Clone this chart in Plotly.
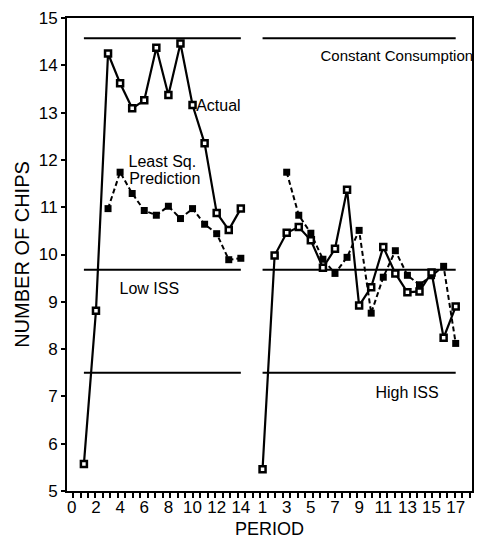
import plotly.graph_objects as go

# Session 1: periods 0-14, Session 2: periods 1-17 (drawn to the right on one axis)
periods_a = list(range(1, 15))
actual_a = [5.57, 8.81, 14.25, 13.62, 13.09, 13.26, 14.37, 13.37, 14.46, 13.16, 12.35, 10.88, 10.52, 10.97]
pred_periods_a = list(range(3, 15))
pred_a = [10.97, 11.74, 11.29, 10.93, 10.83, 11.02, 10.76, 10.97, 10.64, 10.44, 9.89, 9.92]

periods_b = list(range(1, 18))
actual_b = [5.46, 9.98, 10.46, 10.58, 10.30, 9.72, 10.12, 11.37, 8.92, 9.31, 10.16, 9.60, 9.20, 9.22, 9.62, 8.24, 8.90]
pred_periods_b = list(range(3, 18))
pred_b = [11.74, 10.83, 10.45, 9.90, 9.60, 9.94, 10.51, 8.76, 9.52, 10.08, 9.56, 9.36, 9.55, 9.75, 8.12]

# Reference levels
constant_consumption = 14.57
low_iss = 9.68
high_iss = 7.50

# Tick labels
ticks_a = [0, 2, 4, 6, 8, 10, 12, 14]
ticks_b = [1, 3, 5, 7, 9, 11, 13, 15, 17]

OFFSET_B = 14.8  # horizontal shift of the second session on the shared axis
FONT = "Liberation Sans, Arial, sans-serif"

xb = [p + OFFSET_B for p in periods_b]
xpb = [p + OFFSET_B for p in pred_periods_b]

fig = go.Figure()

# reference lines
for lvl in (constant_consumption, low_iss, high_iss):
    fig.add_trace(go.Scatter(x=[periods_a[0], periods_a[-1]], y=[lvl, lvl], mode="lines",
                             line=dict(color="black", width=2), hoverinfo="skip"))
    fig.add_trace(go.Scatter(x=[xb[0], xb[-1]], y=[lvl, lvl], mode="lines",
                             line=dict(color="black", width=2), hoverinfo="skip"))

pred_style = dict(mode="lines+markers", line=dict(color="black", width=2, dash="5px,3px"),
                  marker=dict(symbol="square", size=7, color="black"))
act_style = dict(mode="lines+markers", line=dict(color="black", width=2.2),
                 marker=dict(symbol="square", size=6, color="white",
                             line=dict(color="black", width=2.5)))

fig.add_trace(go.Scatter(x=pred_periods_a, y=pred_a, **pred_style))
fig.add_trace(go.Scatter(x=xpb, y=pred_b, **pred_style))
fig.add_trace(go.Scatter(x=periods_a, y=actual_a, **act_style))
fig.add_trace(go.Scatter(x=xb, y=actual_b, **act_style))

# text labels
labels = [
    (10.3, 13.11, "Actual"),
    (4.7, 11.93, "Least Sq."),
    (4.75, 11.57, "Prediction"),
    (3.95, 9.25, "Low ISS"),
    (25.15, 7.06, "High ISS"),
]
fig.add_trace(go.Scatter(
    x=[l[0] for l in labels], y=[l[1] for l in labels], text=[l[2] for l in labels],
    mode="text", textposition="middle right", cliponaxis=False,
    textfont=dict(family=FONT, size=16, color="black"), hoverinfo="skip"))
fig.add_trace(go.Scatter(
    x=[20.6], y=[14.17], text=["Constant Consumption"],
    mode="text", textposition="middle right", cliponaxis=False,
    textfont=dict(family=FONT, size=15, color="black"), hoverinfo="skip"))

fig.update_layout(
    width=480, height=546,
    margin=dict(l=67, r=6, t=18, b=55),
    paper_bgcolor="white", plot_bgcolor="white",
    showlegend=False,
    font=dict(family=FONT, color="black"),
    xaxis=dict(
        range=[-0.4, 33.15],
        tickmode="array",
        tickvals=ticks_a + [t + OFFSET_B for t in ticks_b],
        ticktext=[str(t) for t in ticks_a] + [str(t) for t in ticks_b],
        ticks="", tickfont=dict(size=17),
        minor=dict(tickmode="linear", tick0=0.1, dtick=0.62, ticks="outside",
                   ticklen=5, tickwidth=1.5, tickcolor="black"),
        showgrid=False, zeroline=False,
        showline=True, linecolor="black", linewidth=2, mirror=True,
        title=dict(text="PERIOD", font=dict(size=18), standoff=6),
    ),
    yaxis=dict(
        range=[5, 15], tickmode="linear", tick0=5, dtick=1,
        ticks="outside", ticklen=4, tickwidth=1.5, tickcolor="black",
        tickfont=dict(size=17),
        showgrid=False, zeroline=False,
        showline=True, linecolor="black", linewidth=2, mirror=True,
        title=dict(text="NUMBER OF CHIPS", font=dict(size=20), standoff=4),
    ),
)

fig.write_html("out.html")
